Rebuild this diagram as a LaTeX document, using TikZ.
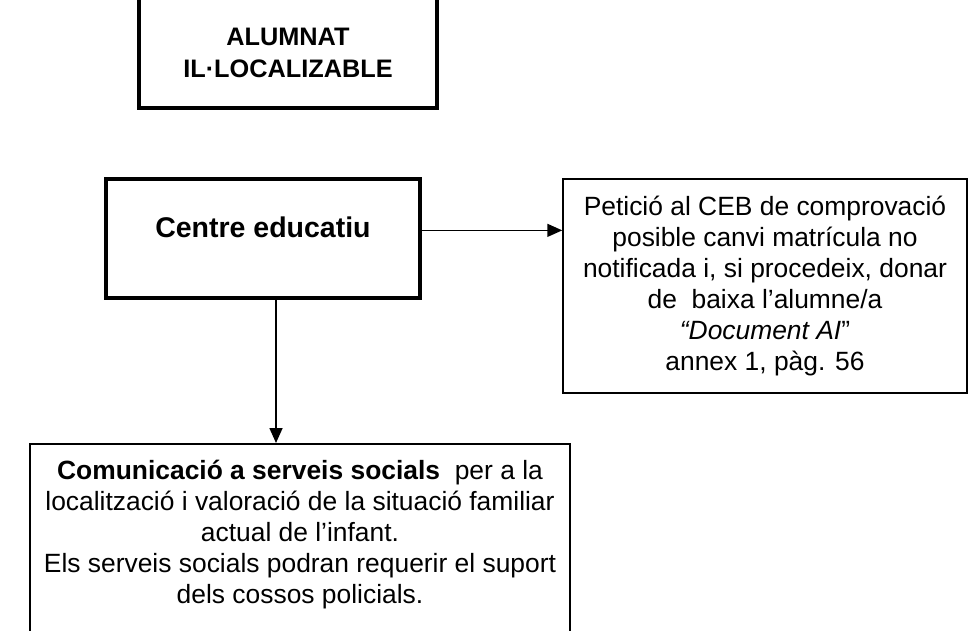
\documentclass[tikz,border=0pt]{standalone}
\usepackage{fontspec}
\setmainfont{Liberation Sans}
\usetikzlibrary{arrows.meta}

\begin{document}
\begin{tikzpicture}[x=1pt,y=-1pt,
  heavybox/.style={draw, line width=3.5pt, inner sep=0pt, align=center},
  thinbox/.style={draw, line width=1.5pt, inner sep=0pt, align=center},
  bodytext/.style={font=\fontsize{26.4}{31}\selectfont},
  flow/.style={line width=1.6pt, -{Triangle[length=15pt,width=13pt]}}]
\useasboundingbox (0,0) rectangle (972,630);

\node[heavybox, minimum width=298pt, minimum height=111pt, font=\bfseries\fontsize{25.3}{32}\selectfont] (alumnat) at (288,52.5) {ALUMNAT\\IL·LOCALIZABLE};
\node[heavybox, minimum width=314pt, text height=58pt, text depth=61pt, font=\bfseries\fontsize{28.5}{34}\selectfont] (centre) at (263,238.5) {Centre educatiu};
\node[thinbox, bodytext, minimum width=404pt, minimum height=214pt] (peticio) at (765,286)
  {Petició al CEB de comprovació\\posible canvi matrícula no\\notificada i, si procedeix, donar\\de\ \ baixa l’alumne/a\\\textit{“Document AI}”\\annex 1, pàg. 56};
\node[thinbox, bodytext, minimum width=540pt, anchor=north] (comunicacio) at (300,443)
  {\rule{0pt}{36pt}\textbf{Comunicació a serveis socials}\ \ per a la\\localització i valoració de la situació familiar\\actual de l’infant.\\Els serveis socials podran requerir el suport\\dels cossos policials.\rule[-60pt]{0pt}{0pt}};

% connectors
\draw[flow] ([yshift=4pt]centre.mid -| centre.east) -- ([yshift=4pt]centre.mid -| peticio.west);
\draw[flow] ([xshift=13pt]centre.south) -- ([xshift=13pt]centre.south |- comunicacio.north);
\end{tikzpicture}
\end{document}
